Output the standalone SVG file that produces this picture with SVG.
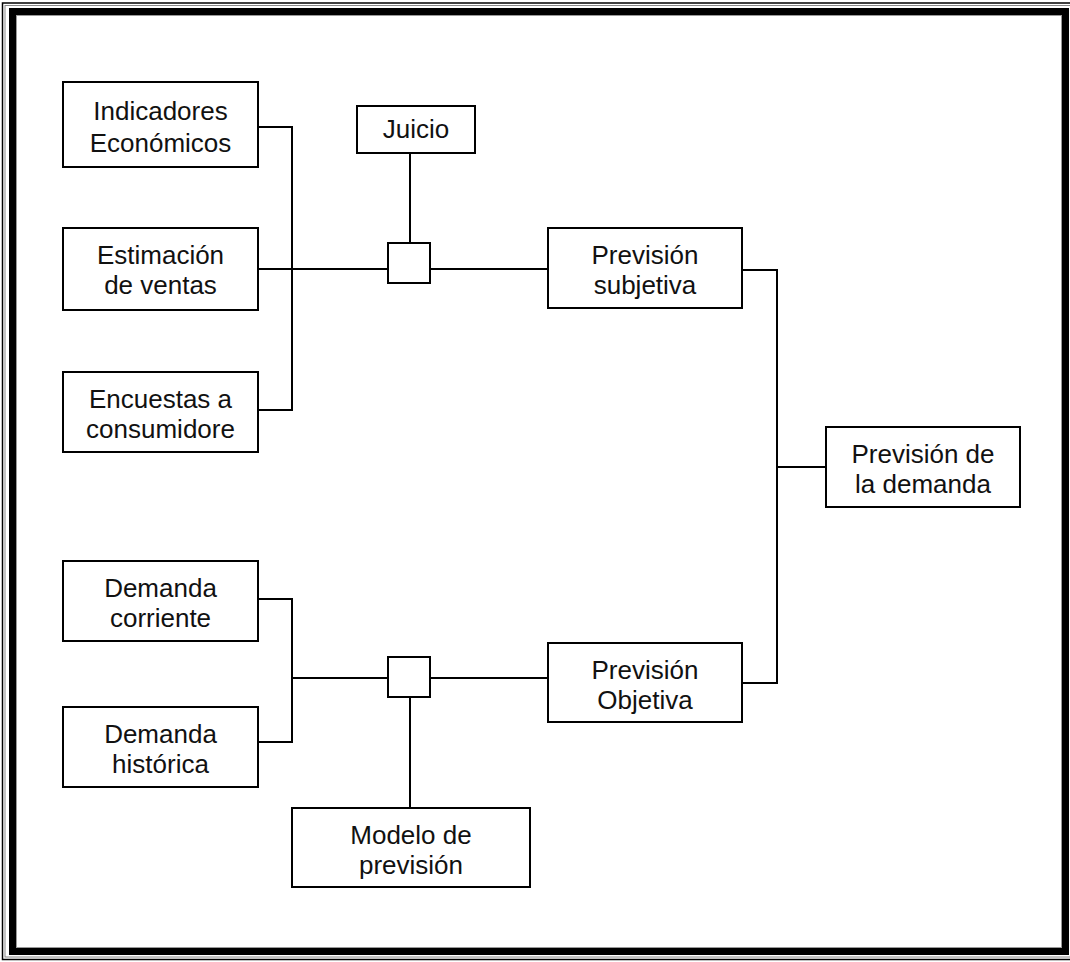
<svg xmlns="http://www.w3.org/2000/svg" width="1070" height="962" viewBox="0 0 1070 962">
<style>
.box{fill:#fff;stroke:#000;stroke-width:2}
.ln{fill:none;stroke:#000;stroke-width:2}
text{font-family:"Liberation Sans",Arial,sans-serif;font-size:26px;fill:#111;text-anchor:middle}
</style>
<rect x="0" y="0" width="1070" height="962" fill="#fff"/>
<g id="frame" fill="none">
<rect x="2.5" y="3" width="1070" height="956.5" stroke="#000" stroke-width="1.5"/>
<rect x="5" y="5.5" width="1070" height="951.5" stroke="#888" stroke-width="1"/>
<rect x="12.5" y="11.5" width="1053" height="940" stroke="#000" stroke-width="7"/>
<rect x="16.5" y="15.5" width="1045" height="932" stroke="#999" stroke-width="1"/>
</g>
<g id="connectors">
<path class="ln" d="M258 127H292V410H258"/>
<path class="ln" d="M258 269H388"/>
<path class="ln" d="M410 153V243"/>
<path class="ln" d="M430 269H548"/>
<path class="ln" d="M742 270H777V683H742"/>
<path class="ln" d="M777 467H826"/>
<path class="ln" d="M258 599H292V742H258"/>
<path class="ln" d="M292 678H388"/>
<path class="ln" d="M430 678H548"/>
<path class="ln" d="M410 697V808"/>
</g>
<g id="junction1"><rect class="box" x="388" y="243" width="42" height="40"/></g>
<g id="junction2"><rect class="box" x="388" y="657" width="42" height="40"/></g>
<g id="indicadores"><rect class="box" x="63" y="82" width="195" height="85"/><text x="160.5" y="120">Indicadores</text><text x="160.5" y="152">Económicos</text></g>
<g id="estimacion"><rect class="box" x="63" y="228" width="195" height="82"/><text x="160.5" y="264">Estimación</text><text x="160.5" y="294">de ventas</text></g>
<g id="encuestas"><rect class="box" x="63" y="372" width="195" height="80"/><text x="160.5" y="408">Encuestas a</text><text x="160.5" y="438">consumidore</text></g>
<g id="juicio"><rect class="box" x="357" y="106" width="118" height="47"/><text x="416" y="138">Juicio</text></g>
<g id="prev-subjetiva"><rect class="box" x="548" y="228" width="194" height="80"/><text x="645" y="264">Previsión</text><text x="645" y="294">subjetiva</text></g>
<g id="prev-demanda"><rect class="box" x="826" y="427" width="194" height="80"/><text x="923" y="463">Previsión de</text><text x="923" y="493">la demanda</text></g>
<g id="demanda-corriente"><rect class="box" x="63" y="561" width="195" height="80"/><text x="160.5" y="597">Demanda</text><text x="160.5" y="627">corriente</text></g>
<g id="demanda-historica"><rect class="box" x="63" y="707" width="195" height="80"/><text x="160.5" y="743">Demanda</text><text x="160.5" y="773">histórica</text></g>
<g id="prev-objetiva"><rect class="box" x="548" y="643" width="194" height="79"/><text x="645" y="679">Previsión</text><text x="645" y="709">Objetiva</text></g>
<g id="modelo"><rect class="box" x="292" y="808" width="238" height="79"/><text x="411" y="844">Modelo de</text><text x="411" y="874">previsión</text></g>
</svg>
